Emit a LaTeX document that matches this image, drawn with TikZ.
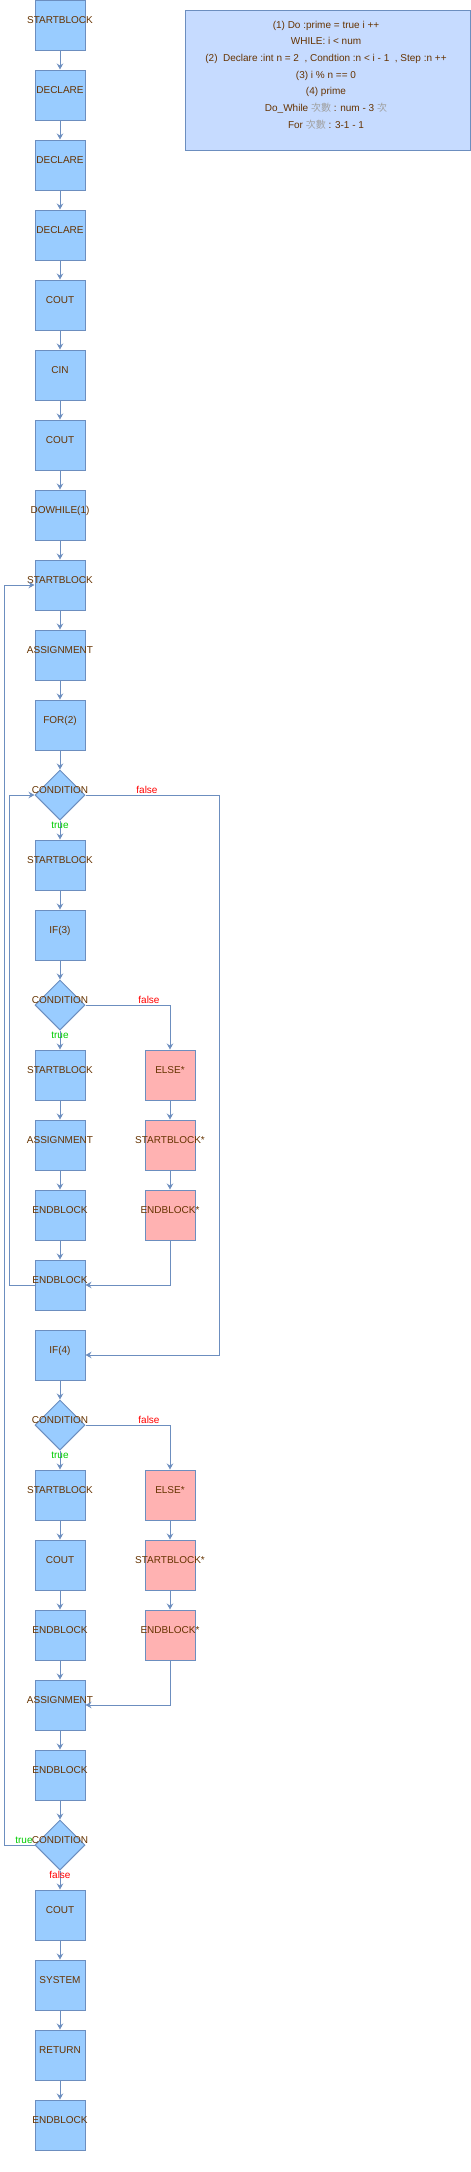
\documentclass[tikz,border=0pt]{standalone}
\usepackage{fontspec}
\setmainfont{Liberation Sans}
\newfontfamily\cjk{Noto Sans CJK TC}
\usetikzlibrary{shapes.geometric,arrows.meta}

\definecolor{edgeblue}{HTML}{6C8EBF}
\definecolor{boxblue}{HTML}{99CCFF}
\definecolor{pinkbox}{HTML}{FFB2B2}
\definecolor{notefill}{HTML}{C6DBFF}
\definecolor{txtbrown}{HTML}{663300}
\definecolor{cjkgrey}{HTML}{A0A0A0}
\definecolor{yesgreen}{HTML}{00CC00}

\tikzset{
	blk/.style={draw=edgeblue, line width=1pt, fill=boxblue, minimum width=50pt, minimum height=50pt, inner sep=0pt},
	pinkblk/.style={blk, fill=pinkbox},
	cond/.style={blk, shape=diamond, aspect=1},
	lab/.style={text=txtbrown, inner sep=0pt, text height=7.2pt, text depth=0pt, yshift=5pt},
	arr/.style={draw=edgeblue, line width=1pt, -{Stealth[length=6pt,width=6.5pt,inset=2pt]}},
	yes/.style={text=yesgreen, inner sep=0pt},
	no/.style={text=red, inner sep=0pt}
}

\begin{document}
\begin{tikzpicture}[x=1pt, y=-1pt, font=\fontsize{10}{12}\selectfont]
	\useasboundingbox (0,0) rectangle (471,2172);

	% note
	\node[draw=edgeblue, line width=1pt, fill=notefill, minimum width=285pt, minimum height=140pt] (notebox) at (327.5,80) {};
	\node[text=txtbrown, align=center, font=\fontsize{10}{16.7}\selectfont] (notetext) at (326,75)
	{(1) Do :prime = true i ++\\
	WHILE: i < num\\
	(2)~~Declare :int n = 2~~, Condtion :n < i - 1~~, Step :n ++\\
	(3) i \% n == 0\\
	(4) prime\\
	Do\_While {\cjk\color{cjkgrey}次數} : num - 3 {\cjk\color{cjkgrey}次}\\
	For {\cjk\color{cjkgrey}次數} : 3-1 - 1};

	% main column
	\foreach \s/\t [count=\i from 0] in {blk/STARTBLOCK, blk/DECLARE, blk/DECLARE, blk/DECLARE, blk/COUT, blk/CIN, blk/COUT, blk/DOWHILE(1), blk/STARTBLOCK, blk/ASSIGNMENT, blk/FOR(2), cond/CONDITION, blk/STARTBLOCK, blk/IF(3), cond/CONDITION, blk/STARTBLOCK, blk/ASSIGNMENT, blk/ENDBLOCK, blk/ENDBLOCK, blk/IF(4), cond/CONDITION, blk/STARTBLOCK, blk/COUT, blk/ENDBLOCK, blk/ASSIGNMENT, blk/ENDBLOCK, cond/CONDITION, blk/COUT, blk/SYSTEM, blk/RETURN, blk/ENDBLOCK}
		\node[style=\s, label={[lab]center:\t}] (m\i) at (60,{25+70*\i}) {};

	% else branches
	\node[pinkblk, label={[lab]center:ELSE*}] (e1) at (170,1075) {};
	\node[pinkblk, label={[lab]center:STARTBLOCK*}] (e2) at (170,1145) {};
	\node[pinkblk, label={[lab]center:ENDBLOCK*}] (e3) at (170,1215) {};
	\node[pinkblk, label={[lab]center:ELSE*}] (f1) at (170,1495) {};
	\node[pinkblk, label={[lab]center:STARTBLOCK*}] (f2) at (170,1565) {};
	\node[pinkblk, label={[lab]center:ENDBLOCK*}] (f3) at (170,1635) {};

	\foreach \i [evaluate=\i as \j using int(\i+1)] in {0,...,17,19,20,...,29}
		\draw[arr] (m\i) -- (m\j);
	\draw[arr] (e1) -- (e2);
	\draw[arr] (e2) -- (e3);
	\draw[arr] (f1) -- (f2);
	\draw[arr] (f2) -- (f3);

	% for (2)
	\draw[arr] (m11.east) -- ++(134,0) |- (m19.east);
	\draw[arr] (m18.west) -- ++(-25,0) |- (m11.west);
	% if (3)
	\draw[arr] (m14.east) -| (e1.north);
	\draw[arr] (e3.south) |- (m18.east);
	% if (4)
	\draw[arr] (m20.east) -| (f1.north);
	\draw[arr] (f3.south) |- (m24.east);
	% do while (1)
	\draw[arr] (m26.west) -- ++(-30,0) |- (m8.west);

	\node[yes] (t1) at (60,825) {true};
	\node[no] (f1l) at (147,790) {false};
	\node[yes] (t2) at (60,1035) {true};
	\node[no] (f2l) at (149,1000) {false};
	\node[yes] (t3) at (60,1455) {true};
	\node[no] (f3l) at (149,1420) {false};
	\node[yes] (t4) at (24,1840) {true};
	\node[no] (f4l) at (60,1875) {false};
\end{tikzpicture}
\end{document}
